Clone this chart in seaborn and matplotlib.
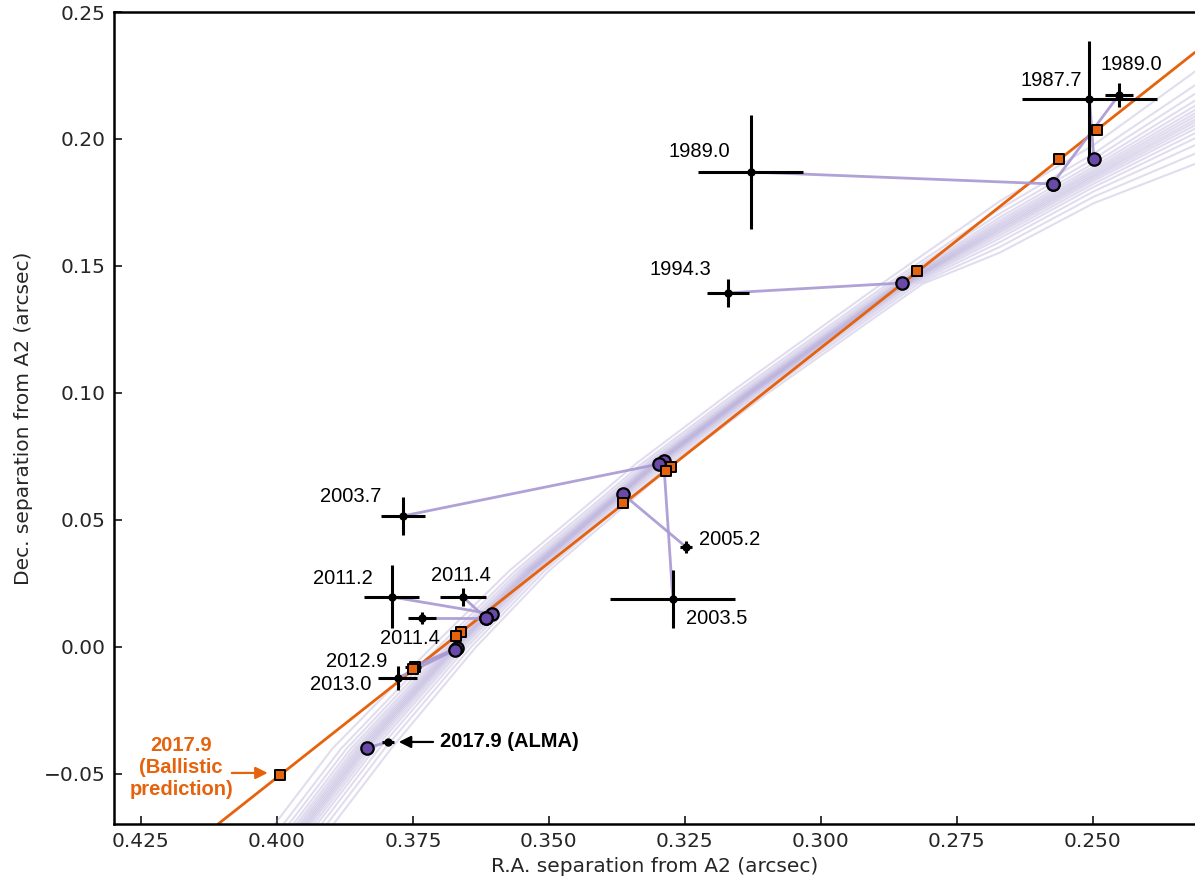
import numpy as np
import pandas as pd
import matplotlib
matplotlib.use("Agg")
import matplotlib.pyplot as plt
import seaborn as sns

# ---------------- data ----------------
obs_labels = ["1987.7", "1989.0", "1989.0", "1994.3", "2003.5", "2003.7", "2005.2",
              "2011.2", "2011.4", "2011.4", "2012.9", "2013.0", "2017.9"]
obs_x = [0.2506, 0.2452, 0.3129, 0.3171, 0.3272, 0.3768, 0.3248,
         0.3789, 0.3658, 0.3733, 0.3750, 0.3778, 0.3796]
obs_y = [0.2157, 0.2173, 0.1870, 0.1394, 0.0189, 0.0516, 0.0394,
         0.0197, 0.0197, 0.0114, -0.0079, -0.0122, -0.0374]
obs_xerr = [0.0125, 0.0026, 0.0096, 0.0039, 0.0115, 0.0041, 0.0011,
            0.0051, 0.0042, 0.0026, 0.0015, 0.0036, 0.0011]
obs_yerr = [0.0230, 0.0047, 0.0224, 0.0055, 0.0113, 0.0075, 0.0024,
            0.0124, 0.0037, 0.0024, 0.0022, 0.0049, 0.0010]

# model (fitted) positions for each observation
model_x = [0.2498, 0.2574, 0.2574, 0.2851, 0.3289, 0.3298, 0.3364,
           0.3605, 0.3616, 0.3616, 0.3669, 0.3673, 0.3835]
model_y = [0.1921, 0.1823, 0.1823, 0.1433, 0.0732, 0.0720, 0.0602,
           0.0130, 0.0114, 0.0114, -0.0004, -0.0012, -0.0398]

# ballistic prediction at each epoch
ball_epochs = ["1987.7", "1989.0", "1994.3", "2003.5", "2003.7", "2005.2",
               "2011.2", "2011.4", "2012.9", "2013.0", "2017.9"]
ball_x = [0.2493, 0.2562, 0.2824, 0.3276, 0.3285, 0.3364,
          0.3662, 0.3671, 0.3746, 0.3750, 0.3994]
ball_y = [0.2035, 0.1921, 0.1480, 0.0709, 0.0693, 0.0567,
          0.0059, 0.0043, -0.0079, -0.0087, -0.0504]

# envelope of the sampled model trajectories, read from the figure
# lower part: R.A. of the bundle centre / half-spread at given Dec levels
bundle_dec_levels = [-0.07, -0.04, 0.0, 0.03, 0.06, 0.0724, 0.10, 0.143]
bundle_ra_centre = [0.3949, 0.3842, 0.3673, 0.3535, 0.3370, 0.3302, 0.3131, 0.2849]
bundle_ra_spread = [0.0040, 0.0040, 0.0030, 0.0027, 0.0026, 0.0026, 0.0026, 0.0028]
# upper part: Dec of the bundle centre / half-spread at given R.A. levels
bundle_ra_levels = [0.2671, 0.2498, 0.2300]
bundle_dec_centre = [0.1650, 0.1858, 0.2091]
bundle_dec_spread = [0.0075, 0.0085, 0.0138]
# relative position of each drawn sample inside the envelope
bundle_samples = [-1.4, -1.0, -0.75, -0.55, -0.4, -0.28, -0.18, -0.09, 0.0,
                  0.08, 0.17, 0.27, 0.4, 0.55, 0.75, 1.0, 1.3]

x_ticks = [0.425, 0.400, 0.375, 0.350, 0.325, 0.300, 0.275, 0.250]
y_ticks = [-0.05, 0.00, 0.05, 0.10, 0.15, 0.20, 0.25]

# label anchor positions (text centres)
lab_x = [0.2577, 0.2430, 0.3224, 0.3259, 0.3191, 0.3864, 0.3167,
         0.3879, 0.3662, 0.3756, 0.3853, 0.3882]
lab_y = [0.2232, 0.2295, 0.1949, 0.1488, 0.0114, 0.0594, 0.0425,
         0.0268, 0.0280, 0.0035, -0.0059, -0.0146]

# ---------------- style ----------------
ORANGE = "#e6620c"
PURPLE = "#6a4aa8"
LAVENDER = "#a898d2"
BUNDLE = "#9587c8"

sns.set_theme(style="ticks")
plt.rcParams["font.family"] = ["DejaVu Sans"]
FS = 14.5
HELV = ["Liberation Sans", "DejaVu Sans"]

fig = plt.figure(figsize=(11.95, 8.86), dpi=100)
ax = fig.add_axes([114 / 1195, 62 / 886, 1 - 114 / 1195, 812 / 886])

# trajectories bundle
rows = []
for k, f in enumerate(bundle_samples):
    i = 0
    for yl, xc, xs in zip(bundle_dec_levels, bundle_ra_centre, bundle_ra_spread):
        rows.append({"curve": k, "order": i, "x": xc - f * xs, "y": yl})
        i += 1
    for xl, yc, ys in zip(bundle_ra_levels, bundle_dec_centre, bundle_dec_spread):
        rows.append({"curve": k, "order": i, "x": xl, "y": yc - f * ys})
        i += 1
df_traj = pd.DataFrame(rows)
sns.lineplot(data=df_traj, x="x", y="y", units="curve", estimator=None, sort=False,
             color=BUNDLE, alpha=0.28, lw=1.5, ax=ax, zorder=1, legend=False)

# ballistic line
ax.axline((ball_x[0], ball_y[0]), (ball_x[-1], ball_y[-1]), color=ORANGE, lw=2.0, zorder=2)

# links model -> observation
for ox, oy, mx, my in zip(obs_x, obs_y, model_x, model_y):
    ax.plot([ox, mx], [oy, my], color=LAVENDER, lw=2.0, alpha=0.9, zorder=3,
            solid_capstyle="round")

# observations
ax.errorbar(obs_x, obs_y, xerr=obs_xerr, yerr=obs_yerr, fmt="o", color="black",
            ms=5, elinewidth=2.2, capsize=0, zorder=4)

# model points
df_model = pd.DataFrame({"x": model_x, "y": model_y})
sns.scatterplot(data=df_model, x="x", y="y", ax=ax, marker="o", s=80,
                color=PURPLE, edgecolor="black", linewidth=1.6, zorder=5)

# ballistic points
df_ball = pd.DataFrame({"x": ball_x, "y": ball_y, "epoch": ball_epochs})
sns.scatterplot(data=df_ball, x="x", y="y", ax=ax, marker="s", s=55,
                color=ORANGE, edgecolor="black", linewidth=1.4, zorder=6)

# epoch labels
for lab, lx, ly in zip(obs_labels[:-1], lab_x, lab_y):
    ax.text(lx, ly, lab, ha="center", va="center", fontsize=FS, family=HELV,
            color="black", zorder=7)

# ALMA annotation
ax.annotate("", xy=(0.3776, obs_y[-1]), xytext=(0.3713, obs_y[-1]),
            arrowprops=dict(arrowstyle="-|>", color="black", lw=1.6,
                            mutation_scale=18, shrinkA=0, shrinkB=0), zorder=7)
ax.text(0.3700, obs_y[-1], "2017.9 (ALMA)", ha="left", va="center",
        fontsize=FS, family=HELV, fontweight="bold", color="black", zorder=7)

# ballistic annotation
ax.annotate("", xy=(0.4017, -0.0496), xytext=(0.4083, -0.0496),
            arrowprops=dict(arrowstyle="-|>", color=ORANGE, lw=1.6,
                            mutation_scale=18, shrinkA=0, shrinkB=0), zorder=7)
ax.text(0.4176, -0.0476, "2017.9\n(Ballistic\nprediction)", ha="center", va="center",
        fontsize=FS, family=HELV, fontweight="bold", color=ORANGE, linespacing=1.2,
        zorder=7)

# axes
ax.set_xlim(0.42996, 0.2312)
ax.set_ylim(-0.0697, 0.25)
ax.set_xticks(x_ticks)
ax.set_xticklabels([f"{v:.3f}" for v in x_ticks])
ax.set_yticks(y_ticks)
ax.set_yticklabels([f"{v:.2f}".replace("-", "\u2212") for v in y_ticks])
ax.tick_params(direction="in", length=6, width=1.3, labelsize=FS, pad=6,
               top=False, right=False)
for side in ["left", "bottom", "top"]:
    ax.spines[side].set_linewidth(1.8)
    ax.spines[side].set_color("black")
ax.spines["right"].set_visible(False)
ax.set_xlabel("R.A. separation from A2 (arcsec)", fontsize=FS, labelpad=4)
ax.set_ylabel("Dec. separation from A2 (arcsec)", fontsize=FS, labelpad=8)
ax.grid(False)

fig.savefig("out.png", dpi=100)
